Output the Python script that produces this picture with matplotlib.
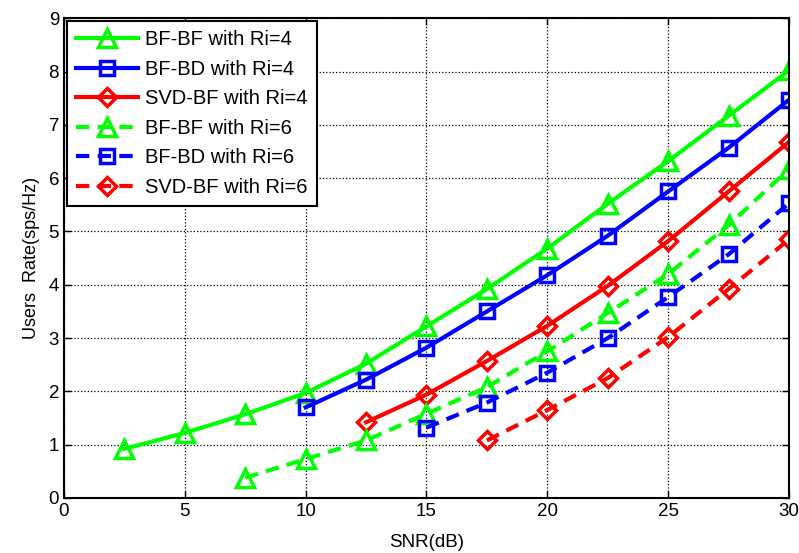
import matplotlib
matplotlib.use("Agg")
import matplotlib.pyplot as plt

plt.rcParams['font.family'] = ['Liberation Sans', 'DejaVu Sans']

snr_bfbf4 = [2.5, 5, 7.5, 10, 12.5, 15, 17.5, 20, 22.5, 25, 27.5, 30]
bfbf4 = [0.92, 1.22, 1.57, 1.97, 2.52, 3.22, 3.92, 4.68, 5.52, 6.32, 7.17, 8.02]
snr_bfbd4 = [10, 12.5, 15, 17.5, 20, 22.5, 25, 27.5, 30]
bfbd4 = [1.70, 2.22, 2.82, 3.50, 4.18, 4.92, 5.75, 6.57, 7.47]
snr_svd4 = [12.5, 15, 17.5, 20, 22.5, 25, 27.5, 30]
svd4 = [1.42, 1.94, 2.57, 3.23, 3.98, 4.82, 5.75, 6.68]
snr_bfbf6 = [7.5, 10, 12.5, 15, 17.5, 20, 22.5, 25, 27.5, 30]
bfbf6 = [0.38, 0.73, 1.08, 1.58, 2.08, 2.75, 3.47, 4.20, 5.12, 6.17]
snr_bfbd6 = [15, 17.5, 20, 22.5, 25, 27.5, 30]
bfbd6 = [1.32, 1.79, 2.35, 3.00, 3.77, 4.57, 5.53]
snr_svd6 = [17.5, 20, 22.5, 25, 27.5, 30]
svd6 = [1.08, 1.65, 2.25, 3.02, 3.92, 4.85]

labels = ['BF-BF with Ri=4', 'BF-BD with Ri=4', 'SVD-BF with Ri=4',
          'BF-BF with Ri=6', 'BF-BD with Ri=6', 'SVD-BF with Ri=6']

fig = plt.figure(figsize=(7.99, 5.53), dpi=100)
ax = fig.add_axes([0.080, 0.0995, 0.9075, 0.8675])

green = '#00ff00'
blue = '#0000ff'
red = '#ff0000'
series = [
    (snr_bfbf4, bfbf4, green, '^', '-', 13),
    (snr_bfbd4, bfbd4, blue, 's', '-', 10),
    (snr_svd4, svd4, red, 'D', '-', 9),
    (snr_bfbf6, bfbf6, green, '^', '--', 13),
    (snr_bfbd6, bfbd6, blue, 's', '--', 10),
    (snr_svd6, svd6, red, 'D', '--', 9),
]
for (x, y, c, m, ls, ms), lab in zip(series, labels):
    line, = ax.plot(x, y, color=c, marker=m, linestyle=ls, linewidth=3, markersize=ms,
                    markerfacecolor='none', markeredgewidth=2.5, label=lab)
    if ls == '--':
        line.set_dashes((3.2, 2.0))

ax.set_xlim(0, 30)
ax.set_ylim(0, 9)
ax.set_xticks(range(0, 31, 5))
ax.set_yticks(range(0, 10))
ax.grid(True, color='black', linestyle=':', linewidth=0.9)
ax.tick_params(direction='in', top=True, right=True, labelsize=13.5, length=5, width=1)
for s in ax.spines.values():
    s.set_linewidth(1.5)
ax.set_xlabel('SNR(dB)', fontsize=13.5, labelpad=10)
ax.set_ylabel('Users  Rate(sps/Hz)', fontsize=13, labelpad=6)

leg = ax.legend(loc='upper left', fontsize=14.5, fancybox=False, framealpha=1,
                edgecolor='black', handlelength=3.1, handletextpad=0.35,
                borderaxespad=0.15, labelspacing=0.52, borderpad=0.45)
leg.get_frame().set_linewidth(1.5)

fig.savefig('out.png', dpi=100)
